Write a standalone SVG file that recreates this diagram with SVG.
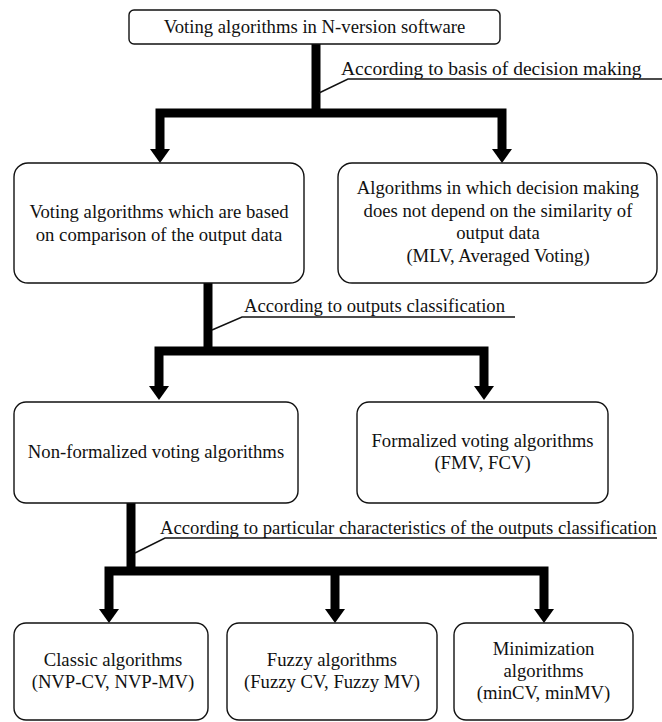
<svg xmlns="http://www.w3.org/2000/svg" width="662" height="722" viewBox="0 0 662 722">
<style>
  .box { fill: #ffffff; stroke: #111111; stroke-width: 1.4; }
  .t { font-family: "Liberation Serif", "Times New Roman", serif; font-size: 18.7px; fill: #111111; text-anchor: middle; }
  .lbl { font-family: "Liberation Serif", "Times New Roman", serif; font-size: 18.7px; fill: #111111; }
  .flow { fill: none; stroke: #000000; stroke-width: 9; stroke-linejoin: miter; stroke-linecap: butt; marker-end: url(#ah); }
  .trunk { fill: none; stroke: #000000; stroke-width: 9; stroke-linecap: butt; }
  .lead { fill: none; stroke: #111111; stroke-width: 1.4; }
</style>
<defs>
  <marker id="ah" markerUnits="userSpaceOnUse" markerWidth="14" markerHeight="20" viewBox="0 0 14 20" refX="0" refY="10" orient="auto">
    <path d="M0,0 L14,10 L0,20 Z" fill="#000000"/>
  </marker>
</defs>
<rect width="662" height="722" fill="#ffffff"/>

<g id="connectors">
  <path class="trunk" d="M316,44 V117"/>
  <path class="flow" d="M316,113 H160 V149"/>
  <path class="flow" d="M316,113 H502 V149"/>

  <path class="trunk" d="M208,283 V355"/>
  <path class="flow" d="M208,351 H159 V386"/>
  <path class="flow" d="M208,351 H484 V386"/>

  <path class="trunk" d="M131,503 V575"/>
  <path class="flow" d="M131,571 H109 V609"/>
  <path class="flow" d="M131,571 H544 V609"/>
  <path class="flow" d="M335,571 V609"/>
</g>

<g id="label-basis">
  <path class="lead" d="M319,93 L348,79 H662"/>
  <text class="lbl" x="341" y="75" style="font-size:19.5px">According to basis of decision making</text>
</g>
<g id="label-outputs">
  <path class="lead" d="M212,330 L242,317 H515"/>
  <text class="lbl" x="244" y="312">According to outputs classification</text>
</g>
<g id="label-particular">
  <path class="lead" d="M135,553 L165,538 H657"/>
  <text class="lbl" x="160" y="534">According to particular characteristics of the outputs classification</text>
</g>

<g id="n-root">
  <rect class="box" x="129" y="10" width="371" height="34" rx="5"/>
  <text class="t" x="314.5" y="33">Voting algorithms in N-version software</text>
</g>

<g id="n-comparison">
  <rect class="box" x="14" y="163" width="290" height="120" rx="14"/>
  <text class="t" x="159" y="218">Voting algorithms which are based</text>
  <text class="t" x="159" y="240.5">on comparison of the output data</text>
</g>

<g id="n-independent">
  <rect class="box" x="338" y="163" width="319" height="120" rx="14"/>
  <text class="t" x="498" y="194">Algorithms in which decision making</text>
  <text class="t" x="498" y="216.5">does not depend on the similarity of</text>
  <text class="t" x="498" y="239">output data</text>
  <text class="t" x="498" y="261.5">(MLV, Averaged Voting)</text>
</g>

<g id="n-nonformalized">
  <rect class="box" x="14" y="402" width="284" height="101" rx="12"/>
  <text class="t" x="156" y="458">Non-formalized voting algorithms</text>
</g>

<g id="n-formalized">
  <rect class="box" x="357" y="402" width="251" height="101" rx="12"/>
  <text class="t" x="482.5" y="447">Formalized voting algorithms</text>
  <text class="t" x="482.5" y="469">(FMV, FCV)</text>
</g>

<g id="n-classic">
  <rect class="box" x="14" y="623" width="194" height="97" rx="12"/>
  <text class="t" x="113" y="666">Classic algorithms</text>
  <text class="t" x="113" y="688">(NVP-CV, NVP-MV)</text>
</g>

<g id="n-fuzzy">
  <rect class="box" x="227" y="623" width="210" height="97" rx="12"/>
  <text class="t" x="332" y="666">Fuzzy algorithms</text>
  <text class="t" x="332" y="688">(Fuzzy CV, Fuzzy MV)</text>
</g>

<g id="n-minimization">
  <rect class="box" x="454" y="623" width="179" height="97" rx="12"/>
  <text class="t" x="543.5" y="655">Minimization</text>
  <text class="t" x="543.5" y="677">algorithms</text>
  <text class="t" x="543.5" y="699">(minCV, minMV)</text>
</g>
</svg>
